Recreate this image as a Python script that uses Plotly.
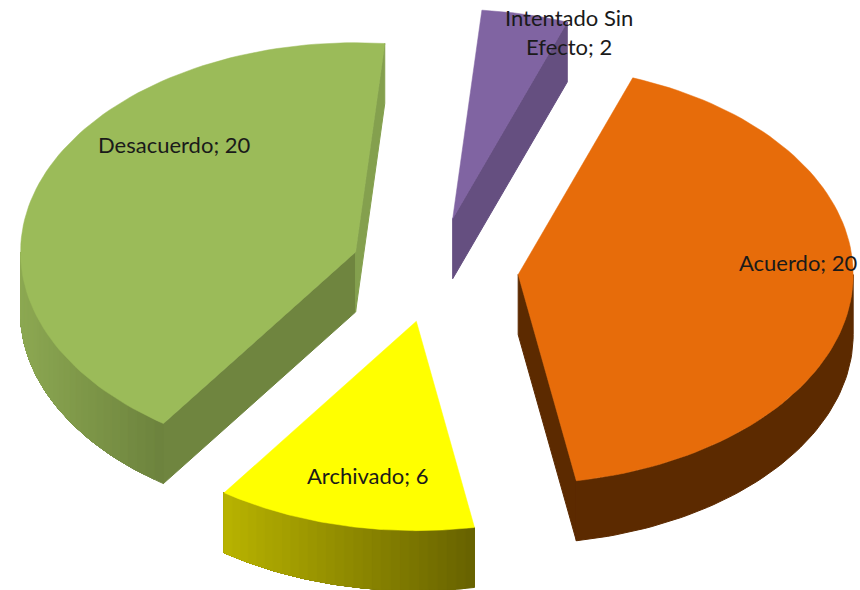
import numpy as np
import plotly.graph_objects as go

# data
categories = ["Acuerdo", "Archivado", "Desacuerdo", "Intentado Sin Efecto"]
values = [20, 6, 20, 2]
label_text = ["Acuerdo; 20", "Archivado; 6", "Desacuerdo; 20", "Intentado Sin<br>Efecto; 2"]

# styles
top_colors = ["#E76C0A", "#FFFF00", "#9BBB59", "#8064A2"]
cut_colors = ["#5C2A00", "#666100", "#6F853F", "#654F80"]
end_colors = ["#5C2A00", "#666100", "#84A04E", "#654F80"]
rim_left = ["#5C2A00", "#B8B300", "#8CA852", "#654F80"]
rim_right = ["#5C2A00", "#666100", "#6C823D", "#654F80"]
label_xy = [(798, 262), (367, 475), (174, 144), (569, 31.5)]

# projection of the 3D pie, in the page's pixels
CX, CY, R, K, DEPTH, EXPLODE, START = 434.5, 270, 335, 0.625, 60, 84, 20


def hex_mix(a, b, f):
    ca = [int(a[i:i + 2], 16) for i in (1, 3, 5)]
    cb = [int(b[i:i + 2], 16) for i in (1, 3, 5)]
    return "#%02X%02X%02X" % tuple(round(x + (y - x) * f) for x, y in zip(ca, cb))


def rim(ax, ay, t):
    r = np.radians(t)
    return ax + R * np.sin(r), ay - R * K * np.cos(r)


def poly(xs, ys, color, width=0.5):
    return go.Scatter(x=list(xs), y=list(ys), mode="lines", fill="toself", fillcolor=color,
                      line=dict(color=color, width=width), hoverinfo="skip", showlegend=False)


def radial_wall(ax, ay, t, color):
    rx, ry = rim(ax, ay, t)
    return poly([ax, rx, rx, ax, ax], [ay, ry, ry + DEPTH, ay + DEPTH, ay], color, 1)


fig = go.Figure()
total = sum(values)
angle = START
for i, v in enumerate(values):
    t0, t1 = angle, angle + v / total * 360
    angle = t1
    mid = np.radians((t0 + t1) / 2)
    ax = CX + EXPLODE * np.sin(mid)
    ay = CY - EXPLODE * K * np.cos(mid)

    # cut faces turned to the viewer
    if np.sin(np.radians(t0)) < 0:
        fig.add_trace(radial_wall(ax, ay, t0, cut_colors[i]))
    if np.sin(np.radians(t1)) > 0:
        fig.add_trace(radial_wall(ax, ay, t1, end_colors[i]))

    # outer wall: painted from its right end, each strip reaching the left end
    a0, a1 = max(t0, 90), min(t1, 270)
    if a1 > a0:
        n = 1 if rim_left[i] == rim_right[i] else 28
        edges = np.linspace(a0, a1, n + 1)
        xall = [rim(ax, ay, e)[0] for e in edges]
        xmin, xmax = min(xall), max(xall)
        for s in range(n):
            seg = np.linspace(edges[s], a1, 60)
            px, py = rim(ax, ay, seg)
            f = (rim(ax, ay, (edges[s] + edges[s + 1]) / 2)[0] - xmin) / (xmax - xmin)
            fig.add_trace(poly(np.r_[px, px[::-1], px[0]],
                               np.r_[py, py[::-1] + DEPTH, py[0]],
                               hex_mix(rim_left[i], rim_right[i], f), 1))

    # top face
    arc = np.linspace(t0, t1, 90)
    px, py = rim(ax, ay, arc)
    fig.add_trace(poly(np.r_[ax, px, ax], np.r_[ay, py, ay], top_colors[i]))

for (x, y), txt in zip(label_xy, label_text):
    fig.add_annotation(x=x, y=y, text=txt, showarrow=False, xref="x", yref="y",
                       font=dict(family="Lato", size=22, color="#1A1A1A"), align="center")

fig.update_layout(width=860, height=590, margin=dict(l=0, r=0, t=0, b=0),
                  paper_bgcolor="white", plot_bgcolor="white", showlegend=False,
                  xaxis=dict(range=[0, 860], visible=False, fixedrange=True),
                  yaxis=dict(range=[590, 0], visible=False, fixedrange=True))
fig.write_html("out.html", config={"displayModeBar": False},
               post_script="document.body.style.margin='0';document.body.style.overflow='hidden';")
